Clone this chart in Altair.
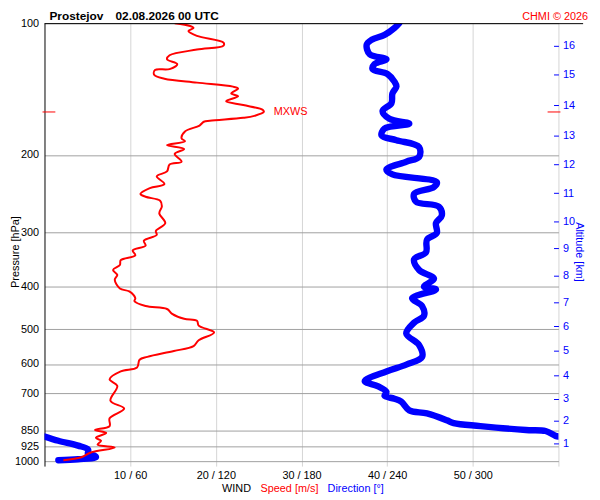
import altair as alt
import pandas as pd

# ---------------- data ----------------
# wind speed profile [m/s] vs pressure [hPa]
spd_p = [100, 101.5, 102.6, 104.2, 106.9, 110.8, 112.5, 114.9, 118.4, 120.9, 124.0, 127.3,
         127.9, 131.2, 133.9, 136.7, 139.6, 141.0, 144.7, 146.9, 150.7, 153.8, 157.8, 159.5,
         162.8, 164.5, 167.0, 167.9, 171.3, 176.7, 183.2, 186.0, 189.8, 193.8, 198.8, 207.2,
         210.3, 218.0, 223.7, 233.0, 237.9, 245.3, 249.1, 254.3, 262.2, 271.8, 286.1, 298.1,
         304.3, 313.8, 322.0, 330.3, 338.9, 347.7, 356.7, 366.0, 375.5, 385.2, 403.4, 409.7,
         424.7, 431.2, 442.4, 449.3, 460.9, 472.9, 477.8, 490.3, 508.2, 529.5, 546.1, 560.2,
         577.8, 586.7, 611.2, 623.9, 650.0, 673.7, 727.6, 758.1, 798.0, 831.4, 848.7, 861.9,
         884.3, 898.0, 916.6, 930.8, 955.0, 979.7, 994.9]
spd_v = [15.2, 17.0, 17.4, 16.8, 17.8, 20.9, 20.9, 17.8, 14.6, 14.3, 15.5, 14.6,
         12.9, 12.8, 14.0, 17.8, 22.0, 22.6, 21.8, 22.6, 21.2, 23.2, 25.5, 25.6,
         24.5, 23.2, 19.3, 18.6, 18.1, 16.4, 16.0, 16.4, 14.3, 16.3, 15.2, 16.0,
         14.6, 14.3, 13.1, 14.0, 12.3, 11.2, 11.8, 13.5, 13.7, 13.4, 14.1, 13.0,
         13.1, 11.6, 11.8, 10.3, 10.6, 8.9, 8.8, 8.0, 8.5, 8.2, 8.8, 9.9,
         10.6, 10.5, 11.8, 14.3, 14.9, 16.3, 17.8, 18.0, 19.8, 18.0, 17.4, 15.1,
         12.0, 11.1, 10.8, 8.9, 7.6, 8.5, 7.7, 9.3, 7.6, 7.6, 5.9, 7.2,
         6.0, 6.6, 6.2, 8.2, 5.4, 4.3, 2.2]

# wind direction profile [deg] vs pressure [hPa]; two pieces (wraps 360 -> 0)
dir1_p = [100, 102.6, 106.4, 109.1, 111.9, 117.8, 120.9, 124.0, 127.3, 130.6, 136.0, 139.6,
          144.7, 152.3, 158.7, 165.3, 169.6, 174.0, 180.4, 185.0, 191.8, 201.9, 207.2, 215.8,
          221.4, 230.7, 236.6, 245.3, 255.6, 262.2, 274.7, 286.1, 301.2, 312.2, 333.7, 345.9,
          366.0, 383.3, 399.3, 405.6, 424.7, 442.4, 465.7, 482.7, 511.1, 543.2, 577.8, 601.9,
          623.9, 656.7, 673.7, 694.7, 709.1, 720.1, 731.3, 765.5, 777.8, 806.3, 818.7, 831.4,
          848.7, 853.1, 875.3, 878]
dir1_v = [248.5, 245.1, 238.2, 229.2, 225.7, 227.8, 239.5, 231.2, 229.8, 240.2, 245.1, 246.5,
          243.7, 243.0, 236.8, 241.6, 255.5, 238.2, 236.1, 246.5, 262.4, 262.4, 253.4, 239.5,
          243.7, 274.8, 272.8, 258.9, 260.3, 276.2, 278.3, 274.2, 274.8, 267.9, 267.2, 258.9,
          262.4, 272.8, 265.8, 274.2, 257.5, 264.5, 265.8, 258.9, 253.4, 262.4, 264.5, 253.4,
          239.5, 224.3, 233.3, 239.5, 238.2, 245.1, 249.9, 255.5, 267.9, 281.8, 286.6, 305.3,
          337.2, 351.0, 357.9, 360]
dir2_p = [878, 898.0, 921.3, 940.4, 964.8, 969.7, 979.7, 989.8, 994.9]
dir2_v = [0, 9.7, 23.5, 30.5, 30.5, 34.6, 36.0, 23.5, 9.7]

# axes
p_ticks = [100, 200, 300, 400, 500, 600, 700, 850, 925, 1000]
spd_ticks = [10, 20, 30, 40, 50]
dir_ticks = [60, 120, 180, 240, 300]
alt_km = [1, 2, 3, 4, 5, 6, 7, 8, 9, 10, 11, 12, 13, 14, 15, 16]
alt_p = [910.4, 809.1, 720.1, 635.9, 559.4, 492.0, 433.5, 377.4, 327.0, 283.6, 244.4,
         210.3, 180.4, 153.8, 131.2, 112.5]

# maximum wind
mxws_p = [159.5]
mxws_v = [25.6]

# ---------------- chart ----------------
FONT = "Liberation Sans"
RED = "#ff0000"
BLUE = "#0000ff"
W, H = 521, 449

spd_df = pd.DataFrame({"p": spd_p, "v": spd_v, "i": list(range(len(spd_p)))})
dir_df = pd.DataFrame({
    "p": dir1_p + dir2_p,
    "v": dir1_v + dir2_v,
    "seg": [1] * len(dir1_p) + [2] * len(dir2_p),
    "i": list(range(len(dir1_p) + len(dir2_p))),
})
mx_df = pd.DataFrame({"p": mxws_p, "v": mxws_v, "t": ["MXWS"]})
one = pd.DataFrame({"a": [0]})

yscale = alt.Scale(type="log", domain=[100, 1026], reverse=True, nice=False)
xs_spd = alt.Scale(domain=[0, 60], nice=False, zero=False)
xs_dir = alt.Scale(domain=[0, 360], nice=False, zero=False)

x_labels = [f"{s} / {d}" for s, d in zip(spd_ticks, dir_ticks)] + [""]
x_vals = spd_ticks + [60]
x_expr = "[" + ",".join(f"'{l}'" for l in x_labels) + "][indexof([" + \
    ",".join(str(v) for v in x_vals) + "], datum.value)]"
alt_expr = "[" + ",".join(f"'{k}'" for k in alt_km) + "][indexof([" + \
    ",".join(str(v) for v in alt_p) + "], datum.value)]"

left_axis = alt.Axis(values=p_ticks, format="d", ticks=False, domain=True,
                     domainColor="black", domainWidth=1, grid=True, gridColor="#a0a0a0",
                     gridWidth=1, labelPadding=6, labelFontSize=11, labelColor="black",
                     labelFont=FONT, labelOverlap=False, title=None)
right_axis = alt.Axis(orient="right", values=alt_p, labelExpr=alt_expr, offset=-5,
                      tickSize=5, tickColor=BLUE, tickWidth=1, domain=False, grid=False,
                      labelColor=BLUE, labelFontSize=11, labelFont=FONT, labelPadding=4,
                      labelOverlap=False, title=None)
x_axis = alt.Axis(values=x_vals, labelExpr=x_expr, grid=True, gridColor="#d4d4d4",
                  gridWidth=1, ticks=False, domain=False, labelPadding=4, labelFontSize=11,
                  labelFont=FONT, labelColor="black", labelOverlap=False, labelFlush=False,
                  title=None)

blue = alt.Chart(dir_df).mark_line(color=BLUE, strokeWidth=6.5, strokeCap="round",
                                   strokeJoin="round", interpolate="catmull-rom",
                                   clip=True).encode(
    x=alt.X("v:Q", scale=xs_dir, axis=None),
    y=alt.Y("p:Q", scale=yscale, axis=right_axis),
    detail="seg:N",
    order="i:Q",
)
red = alt.Chart(spd_df).mark_line(color=RED, strokeWidth=2, interpolate="catmull-rom",
                                  clip=True).encode(
    x=alt.X("v:Q", scale=xs_spd, axis=x_axis),
    y=alt.Y("p:Q", scale=yscale, axis=left_axis),
    order="i:Q",
)
mx_left = alt.Chart(mx_df).mark_rule(color=RED, strokeWidth=1).encode(
    x=alt.value(-2), x2=alt.value(11), y=alt.Y("p:Q", scale=yscale, axis=None))
mx_right = alt.Chart(mx_df).mark_rule(color=RED, strokeWidth=1).encode(
    x=alt.value(510), x2=alt.value(523), y=alt.Y("p:Q", scale=yscale, axis=None))
mx_text = alt.Chart(mx_df).mark_text(align="left", baseline="middle", dx=10, color=RED,
                                     fontSize=11, font=FONT).encode(
    x=alt.X("v:Q", scale=xs_spd, axis=None),
    y=alt.Y("p:Q", scale=yscale, axis=None),
    text="t:N",
)
top_line = alt.Chart(one).mark_rule(color="black", strokeWidth=1).encode(
    x=alt.value(0), x2=alt.value(546), y=alt.value(0.5))


def label(txt, x, y, color="black", size=11, weight="normal", align="left", angle=0):
    return alt.Chart(one).mark_text(align=align, baseline="alphabetic", color=color,
                                    fontSize=size, fontWeight=weight, font=FONT,
                                    angle=angle).encode(
        x=alt.value(x), y=alt.value(y), text=alt.value(txt))


texts = [
    label("Prostejov", 5, -3, size=12, weight="bold"),
    label("02.08.2026 00 UTC", 72, -3, size=12, weight="bold"),
    label("CHMI © 2026", 551, -3, color=RED, align="right"),
    label("Pressure [hPa]", -26, 232, align="center", angle=270),
    label("Altitude [km]", 539, 232, color=BLUE, align="center", angle=90),
    label("WIND", 180, 475),
    label("Speed [m/s]", 219, 475, color=RED),
    label("Direction [°]", 287, 475, color=BLUE),
]

chart = alt.layer(blue, red, mx_left, mx_right, mx_text, top_line, *texts).resolve_scale(
    x="independent").resolve_axis(y="independent", x="independent").properties(
    width=W, height=H,
    autosize=alt.AutoSizeParams(type="none"),
    padding={"left": 37, "top": 12, "right": 34, "bottom": 30},
).configure_view(stroke=None)

chart.save("out.html", embed_options={"renderer": "svg", "actions": False})
